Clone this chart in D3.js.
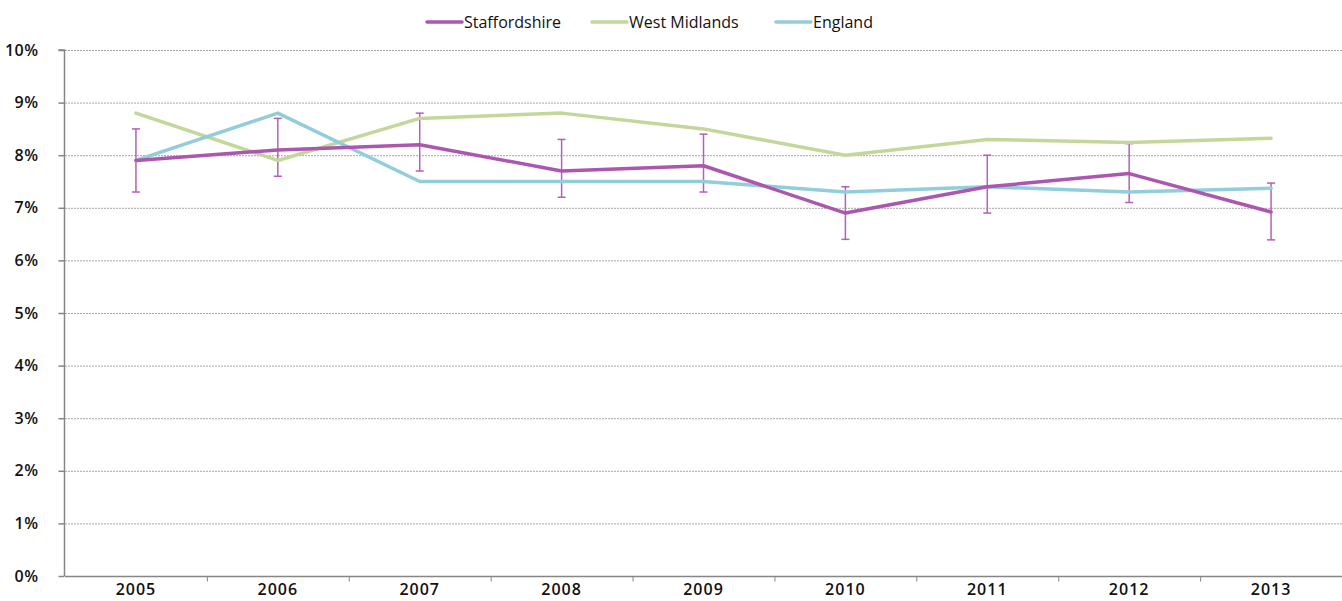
<!DOCTYPE html>
<html>
<head>
<meta charset="utf-8">
<script src="https://cdn.jsdelivr.net/npm/d3@7"></script>
<style>
  body { margin: 0; background: #fff; }
  text { font-family: "Open Sans", Lato, sans-serif; fill: #111; }
</style>
</head>
<body>
<svg class="line-chart"></svg>
<script>
const years = ['2005', '2006', '2007', '2008', '2009', '2010', '2011', '2012', '2013'];
const staffordshire = [7.9, 8.1, 8.2, 7.7, 7.8, 6.9, 7.4, 7.65, 6.92];
const staffsLower = [7.3, 7.6, 7.7, 7.2, 7.3, 6.4, 6.9, 7.1, 6.39];
const staffsUpper = [8.5, 8.7, 8.8, 8.3, 8.4, 7.4, 8.0, 8.22, 7.47];
const westMidlands = [8.8, 7.9, 8.7, 8.8, 8.5, 8.0, 8.3, 8.24, 8.32];
const england = [7.9, 8.8, 7.5, 7.5, 7.5, 7.3, 7.4, 7.3, 7.37];
const yTicks = [0, 1, 2, 3, 4, 5, 6, 7, 8, 9, 10];

const seriesNames = ['Staffordshire', 'West Midlands', 'England'];
const seriesColors = ['#ac56b0', '#c4d79b', '#92cddc'];

const width = 1342, height = 601;
const margin = { top: 50, right: 0, bottom: 25, left: 65 };

const svg = d3.select('.line-chart')
  .attr('width', width)
  .attr('height', height);

const x = d3.scaleBand()
  .domain(years)
  .range([margin.left, width - margin.right]);

const y = d3.scaleLinear()
  .domain([0, 10])
  .range([height - margin.bottom, margin.top]);

// gridlines
svg.append('g')
  .selectAll('line')
  .data(yTicks.filter((t) => t > 0))
  .join('line')
  .attr('x1', margin.left)
  .attr('x2', width - margin.right)
  .attr('y1', (d) => y(d) + 0.5)
  .attr('y2', (d) => y(d) + 0.5)
  .attr('stroke', '#a6a6a6')
  .attr('stroke-width', 1)
  .attr('stroke-dasharray', '2,1');

// y axis
svg.append('g')
  .attr('transform', `translate(${margin.left - 0.5},0)`)
  .call(d3.axisLeft(y)
    .tickValues(yTicks)
    .tickSize(6)
    .tickPadding(20)
    .tickFormat((d) => d + '%'))
  .call((g) => g.selectAll('.domain, .tick line').attr('stroke', '#868686').attr('stroke-width', 1.5))
  .call((g) => g.select('.domain').attr('d', `M-6,${y(10)}H0V${y(0)}`))
  .call((g) => g.selectAll('.tick text')
    .style('font-family', '"Open Sans", sans-serif')
    .style('font-size', '16px').style('font-weight', 600)
    .style('letter-spacing', '0.5px').attr('fill', '#111'));

// x axis with ticks between categories
const xAxisG = svg.append('g')
  .attr('transform', `translate(0,${y(0) + 0.5})`);
xAxisG.append('line')
  .attr('x1', margin.left)
  .attr('x2', width)
  .attr('stroke', '#868686')
  .attr('stroke-width', 1.5);
xAxisG.selectAll('.sep')
  .data(years.slice(1))
  .join('line')
  .attr('class', 'sep')
  .attr('x1', (d) => x(d) + 0.5)
  .attr('x2', (d) => x(d) + 0.5)
  .attr('y1', 0)
  .attr('y2', 5)
  .attr('stroke', '#868686');
xAxisG.selectAll('text')
  .data(years)
  .join('text')
  .attr('x', (d) => x(d) + x.bandwidth() / 2)
  .attr('y', 18)
  .attr('text-anchor', 'middle')
  .style('font-size', '16px')
  .style('font-weight', 600)
  .style('letter-spacing', '1px')
  .text((d) => d);

const cx = (i) => x(years[i]) + x.bandwidth() / 2;

// error bars for Staffordshire
const err = svg.append('g')
  .attr('stroke', '#b45fb8')
  .attr('stroke-width', 1.5)
  .selectAll('g')
  .data(years.map((yr, i) => ({ i, lo: staffsLower[i], hi: staffsUpper[i] })))
  .join('g');
err.append('line')
  .attr('x1', (d) => cx(d.i)).attr('x2', (d) => cx(d.i))
  .attr('y1', (d) => y(d.lo)).attr('y2', (d) => y(d.hi));
err.append('line')
  .attr('x1', (d) => cx(d.i) - 4).attr('x2', (d) => cx(d.i) + 4)
  .attr('y1', (d) => y(d.lo)).attr('y2', (d) => y(d.lo));
err.append('line')
  .attr('x1', (d) => cx(d.i) - 4).attr('x2', (d) => cx(d.i) + 4)
  .attr('y1', (d) => y(d.hi)).attr('y2', (d) => y(d.hi));

// lines
const line = d3.line()
  .x((d, i) => cx(i))
  .y((d) => y(d));

const allSeries = [westMidlands, england, staffordshire];
const drawOrder = [1, 2, 0];
svg.append('g')
  .selectAll('path')
  .data(allSeries)
  .join('path')
  .attr('d', (d) => line(d))
  .attr('fill', 'none')
  .attr('stroke', (d, i) => seriesColors[drawOrder[i]])
  .attr('stroke-width', 3.5)
  .attr('stroke-linejoin', 'round')
  .attr('stroke-linecap', 'round');

// legend
const legendX = [427, 592, 776];
const legend = svg.append('g')
  .selectAll('g')
  .data(seriesNames)
  .join('g')
  .attr('transform', (d, i) => `translate(${legendX[i]},22)`);
legend.append('line')
  .attr('x1', 0).attr('x2', 35)
  .attr('stroke', (d, i) => seriesColors[i])
  .attr('stroke-width', 3.5)
  .attr('stroke-linecap', 'round');
legend.append('text')
  .attr('x', 37)
  .attr('dy', '0.35em')
  .style('font-size', '16px')
  .style('font-weight', 400)
  .text((d) => d);
</script>
</body>
</html>
